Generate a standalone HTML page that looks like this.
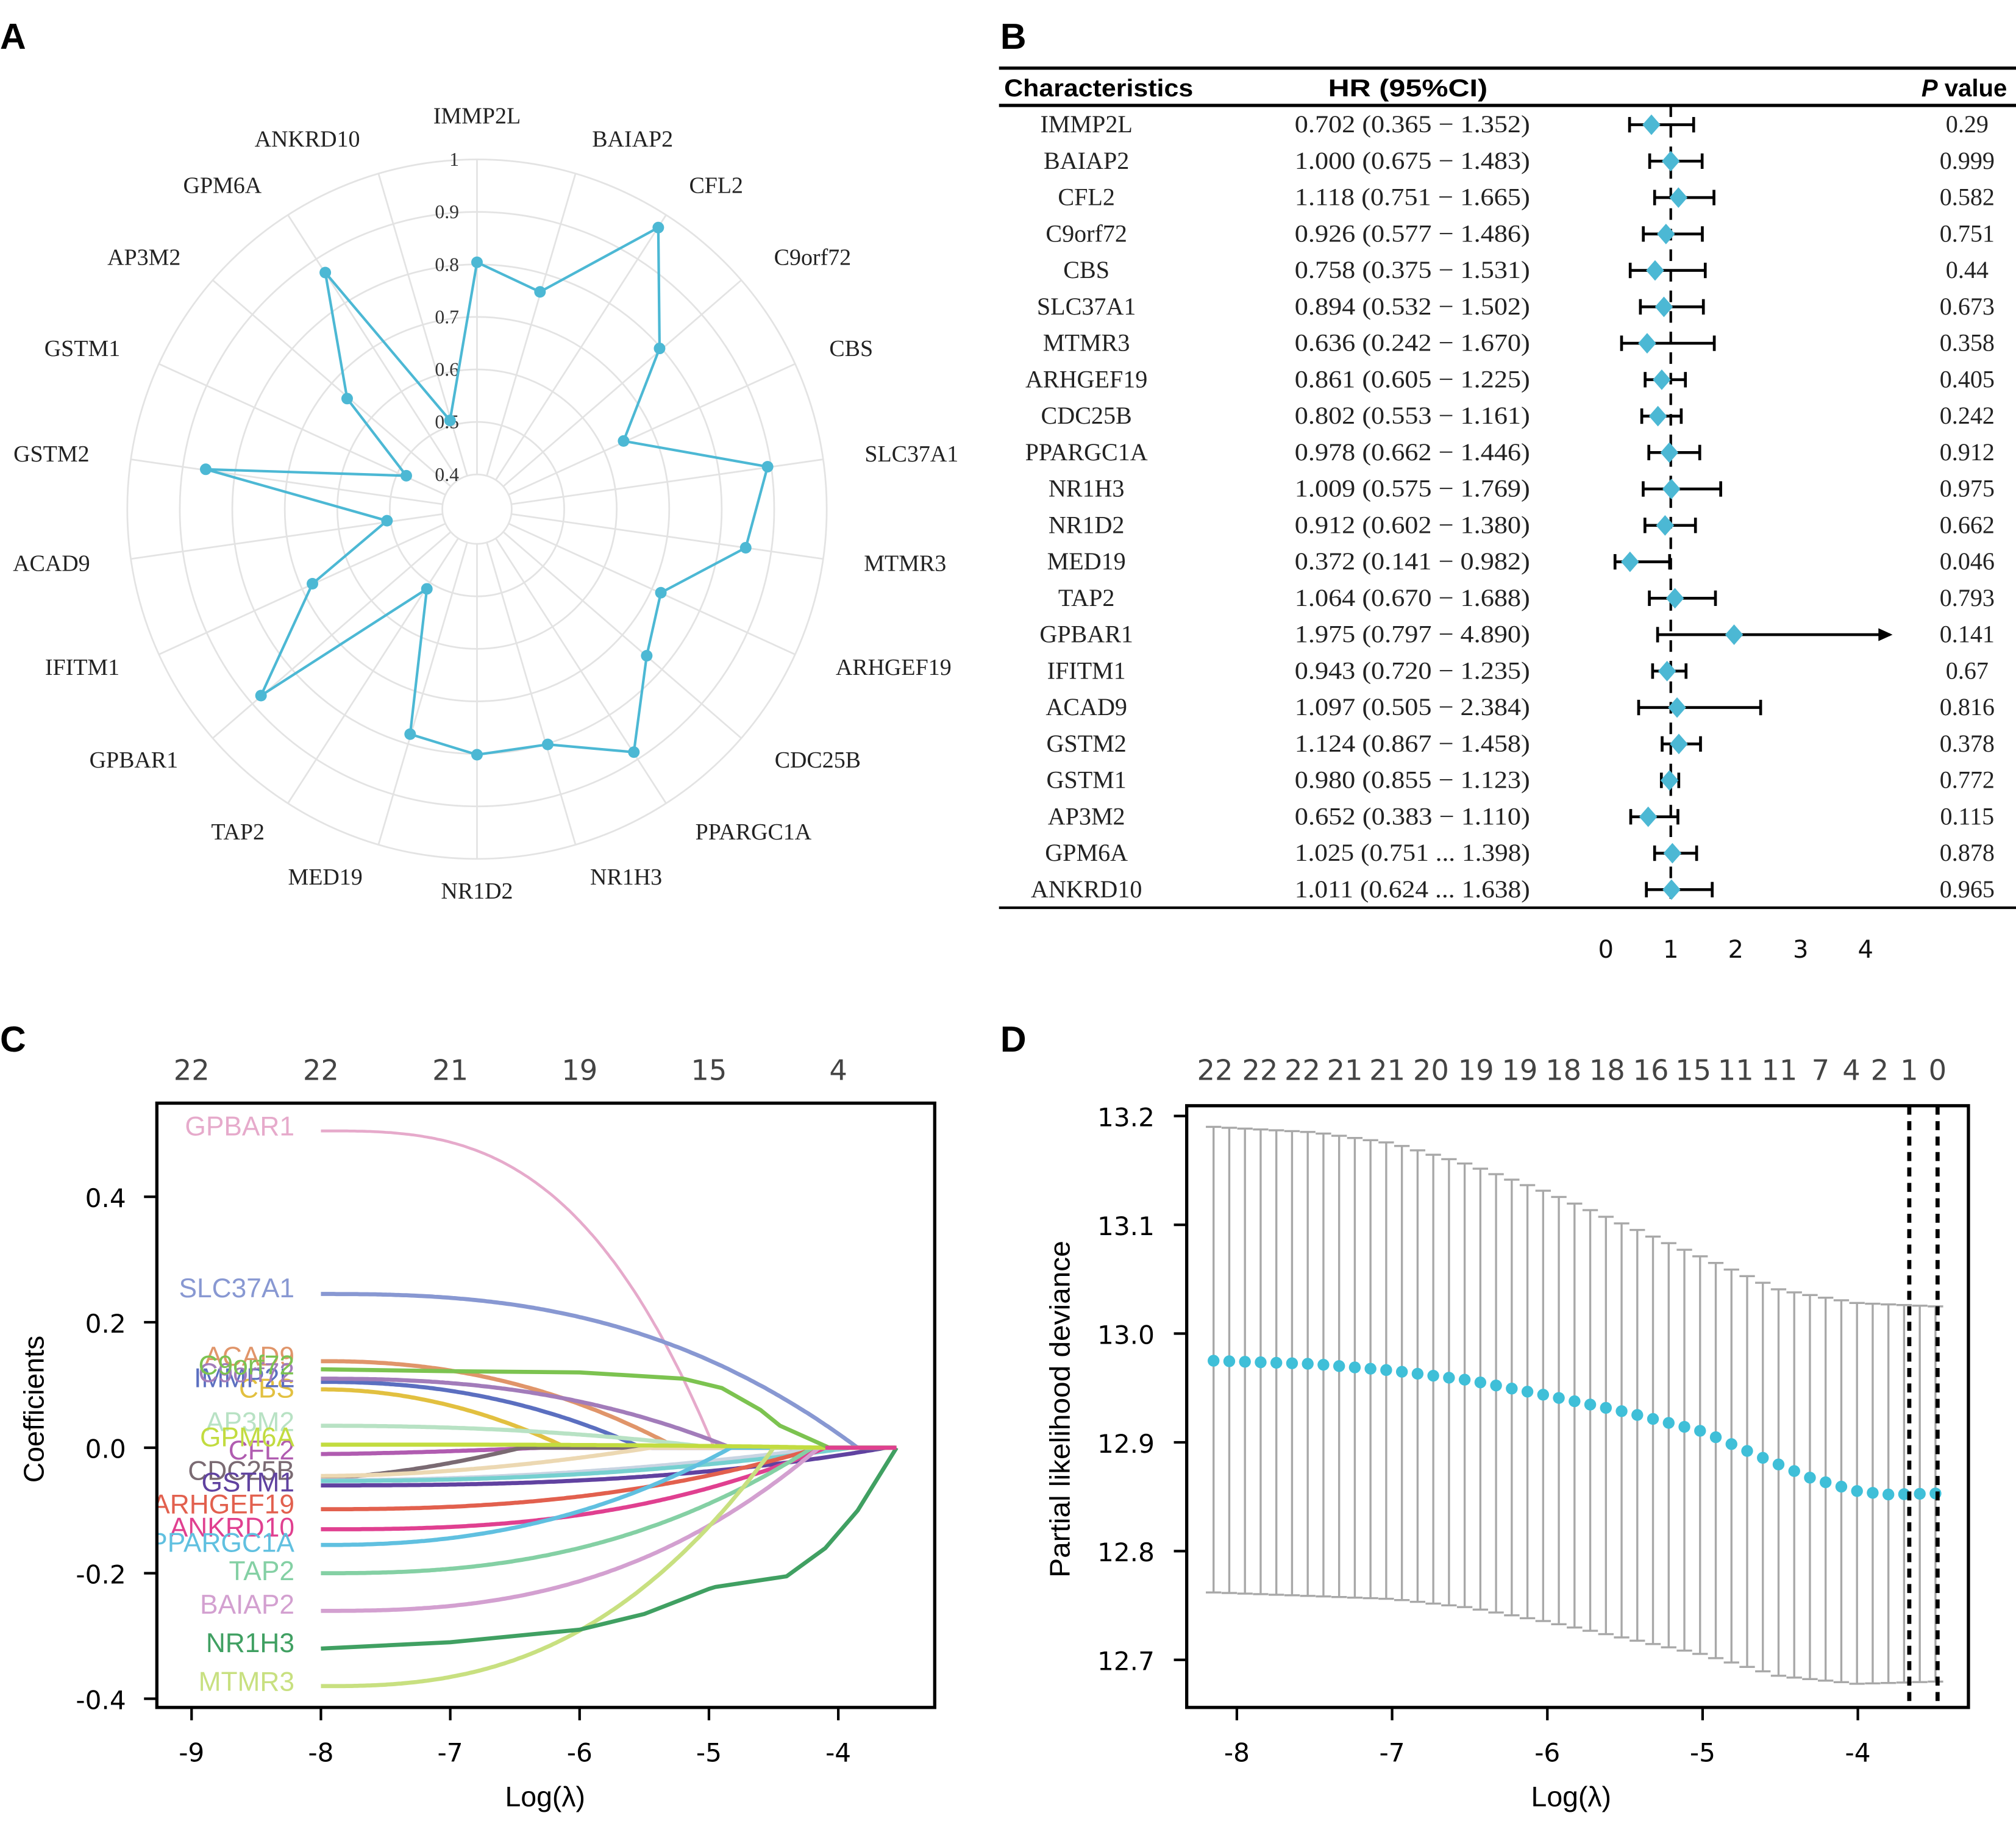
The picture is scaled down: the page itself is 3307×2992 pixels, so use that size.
<!DOCTYPE html>
<html><head><meta charset="utf-8"><style>
html,body{margin:0;padding:0;background:#fff}
svg{display:block}
</style></head><body>
<svg id="s" xmlns="http://www.w3.org/2000/svg" width="3307" height="2992" viewBox="0 0 1568 1418.65">
<rect width="1568" height="1419" fill="#fff"/>
<g font-family="Liberation Sans, sans-serif" font-weight="bold" font-size="28">
<text x="0" y="38">A</text><text x="778" y="38">B</text><text x="0" y="818">C</text><text x="778" y="818">D</text>
</g>
<g id="A"></g><g id="B"></g><g id="C"></g><g id="D"></g>
</svg>
<script>
const NS="http://www.w3.org/2000/svg";
function el(p,t,a,txt){const e=document.createElementNS(NS,t);for(const k in a)e.setAttribute(k,a[k]);if(txt!==undefined)e.textContent=txt;p.appendChild(e);return e;}
(function(){
const g=document.getElementById('A');const cx=371,cy=396;
const R=v=>27+(v-0.4)/0.6*245;
for(let i=0;i<7;i++)el(g,'circle',{cx,cy,r:R(0.4+i*0.1),fill:'none',stroke:'#e3e3e3','stroke-width':1.3});
const names=["IMMP2L","BAIAP2","CFL2","C9orf72","CBS","SLC37A1","MTMR3","ARHGEF19","CDC25B","PPARGC1A","NR1H3","NR1D2","MED19","TAP2","GPBAR1","IFITM1","ACAD9","GSTM2","GSTM1","AP3M2","GPM6A","ANKRD10"];
const pts=[[371,204],[420,227],[512,177],[513,271],[485,343],[597,363],[580,426],[514,461],[503,510],[493,585],[426,579],[371,587],[319,571],[332,458],[203,541],[243,454],[301,405],[160,365],[316,370],[270,310],[253,212],[350,327]];
const lp=[[371,90],[492,108],[557,144],[632,200],[662,271],[709,353],[704,438],[695,519],[636,591],[586,647],[487,682],[371,693],[253,682],[185,647],[104,591],[64,519],[40,438],[40,353],[64,271],[112,200],[173,144],[239,108]];
names.forEach((n,i)=>{const a=i*2*Math.PI/22;const sx=Math.sin(a),sy=-Math.cos(a);
el(g,'line',{x1:cx+sx*R(0.4),y1:cy+sy*R(0.4),x2:cx+sx*R(1),y2:cy+sy*R(1),stroke:'#e3e3e3','stroke-width':1.3});
el(g,'text',{x:lp[i][0],y:lp[i][1]+6,'text-anchor':'middle','font-family':'Liberation Serif, serif','font-size':18,fill:'#222'},n);});
["0.4","0.5","0.6","0.7","0.8","0.9","1"].forEach((t,i)=>{el(g,'text',{x:357,y:cy-R(0.4+i*0.1)+5,'text-anchor':'end','font-family':'Liberation Serif, serif','font-size':15,fill:'#333'},t);});
el(g,'polygon',{points:pts.map(p=>p.join(',')).join(' '),fill:'none',stroke:'#4cb8d4','stroke-width':2});
pts.forEach(p=>el(g,'circle',{cx:p[0],cy:p[1],r:4.5,fill:'#4cb8d4'}));
})();
(function(){
const g=document.getElementById('B');
el(g,'line',{x1:777,y1:53,x2:1568,y2:53,stroke:'#000','stroke-width':2.5});
el(g,'line',{x1:777,y1:82,x2:1568,y2:82,stroke:'#000','stroke-width':2.5});
el(g,'line',{x1:777,y1:706,x2:1568,y2:706,stroke:'#000','stroke-width':2});
const hf={'font-family':'Liberation Sans, sans-serif','font-weight':'bold','font-size':19,fill:'#000'};
el(g,'text',Object.assign({x:781,y:75,textLength:147,lengthAdjust:'spacingAndGlyphs'},hf),'Characteristics');
el(g,'text',Object.assign({x:1033,y:75,textLength:124,lengthAdjust:'spacingAndGlyphs'},hf),'HR (95%CI)');
const pv=el(g,'text',Object.assign({x:1561,y:75,'text-anchor':'end'},hf));
el(pv,'tspan',{'font-style':'italic'},'P');el(pv,'tspan',{},' value');
const rows=[["IMMP2L","0.702 (0.365 − 1.352)","0.29",0.702,0.365,1.352],
["BAIAP2","1.000 (0.675 − 1.483)","0.999",1,0.675,1.483],
["CFL2","1.118 (0.751 − 1.665)","0.582",1.118,0.751,1.665],
["C9orf72","0.926 (0.577 − 1.486)","0.751",0.926,0.577,1.486],
["CBS","0.758 (0.375 − 1.531)","0.44",0.758,0.375,1.531],
["SLC37A1","0.894 (0.532 − 1.502)","0.673",0.894,0.532,1.502],
["MTMR3","0.636 (0.242 − 1.670)","0.358",0.636,0.242,1.67],
["ARHGEF19","0.861 (0.605 − 1.225)","0.405",0.861,0.605,1.225],
["CDC25B","0.802 (0.553 − 1.161)","0.242",0.802,0.553,1.161],
["PPARGC1A","0.978 (0.662 − 1.446)","0.912",0.978,0.662,1.446],
["NR1H3","1.009 (0.575 − 1.769)","0.975",1.009,0.575,1.769],
["NR1D2","0.912 (0.602 − 1.380)","0.662",0.912,0.602,1.38],
["MED19","0.372 (0.141 − 0.982)","0.046",0.372,0.141,0.982],
["TAP2","1.064 (0.670 − 1.688)","0.793",1.064,0.67,1.688],
["GPBAR1","1.975 (0.797 − 4.890)","0.141",1.975,0.797,4.89],
["IFITM1","0.943 (0.720 − 1.235)","0.67",0.943,0.72,1.235],
["ACAD9","1.097 (0.505 − 2.384)","0.816",1.097,0.505,2.384],
["GSTM2","1.124 (0.867 − 1.458)","0.378",1.124,0.867,1.458],
["GSTM1","0.980 (0.855 − 1.123)","0.772",0.98,0.855,1.123],
["AP3M2","0.652 (0.383 − 1.110)","0.115",0.652,0.383,1.11],
["GPM6A","1.025 (0.751 ... 1.398)","0.878",1.025,0.751,1.398],
["ANKRD10","1.011 (0.624 ... 1.638)","0.965",1.011,0.624,1.638]];
const X=v=>1249+v*50.5;
el(g,'line',{x1:X(1),y1:82,x2:X(1),y2:706,stroke:'#000','stroke-width':2,'stroke-dasharray':'9,7'});
const tf={'font-family':'Liberation Serif, serif','font-size':19,fill:'#222'};
rows.forEach((r,i)=>{const y=97+i*28.33;
el(g,'text',Object.assign({x:845,y:y+6,'text-anchor':'middle'},tf),r[0]);
el(g,'text',Object.assign({x:1007,y:y+6,textLength:183,lengthAdjust:'spacingAndGlyphs'},tf),r[1]);
el(g,'text',Object.assign({x:1530,y:y+6,'text-anchor':'middle'},tf),r[2]);
const x1=X(r[4]);let x2=X(r[5]);const arrow=x2>1470;if(arrow)x2=1470;
el(g,'line',{x1,y1:y,x2,y2:y,stroke:'#000','stroke-width':2.2});
el(g,'line',{x1,y1:y-6,x2:x1,y2:y+6,stroke:'#000','stroke-width':2.2});
if(arrow)el(g,'polygon',{points:`${x2+2},${y} ${x2-9},${y-5} ${x2-9},${y+5}`,fill:'#000'});
else el(g,'line',{x1:x2,y1:y-6,x2:x2,y2:y+6,stroke:'#000','stroke-width':2.2});
const hx=X(r[3]);el(g,'polygon',{points:`${hx},${y-8} ${hx+7},${y} ${hx},${y+8} ${hx-7},${y}`,fill:'#4cb8d4'});
});
[0,1,2,3,4].forEach(v=>el(g,'text',{x:X(v),y:745,'text-anchor':'middle','font-family':'DejaVu Sans, sans-serif','font-size':19,fill:'#111'},String(v)));
})();
(function(){
const g=document.getElementById('C');
const X=v=>149+(v+9)*100.6, Y=c=>1126-c*488;
const sf={'font-family':'DejaVu Sans, sans-serif'};
const defs=el(g,'defs',{});const cp=el(defs,'clipPath',{id:'cc'});el(cp,'rect',{x:122,y:858,width:605,height:470});
const curves=[
["GPBAR1","#e6aacb",0.505,-4.96,3,876,2.2],
["SLC37A1","#8898d2",0.245,-3.85,2.6,1002,3.2],
["ACAD9","#e0956a",0.138,-5.25,2.2,1055,3.2],
["CBS","#e2c040",0.093,-6.1,2,1080,3.2],
["IMMP2L","#5b6fc0",0.105,-5.52,2.2,1072,3.2],
["C9orf72","#a27cba",0.11,-4.83,2.4,1068,3.2],
["AP3M2","#b8e2c4",0.035,-4.96,2.2,1106,3.2],
["CFL2","#b05cb0",-0.01,-6.3,1.5,1128,3.2],
["CDC25B","#7a6a72",-0.048,-6.45,1.6,1144,3.2],
["","#ecd8b2",-0.045,-5.45,1.8,1146,3.2],
["","#c8d4e2",-0.052,-4.1,2,1148,3.2],
["","#76d0d0",-0.053,-3.9,2.2,1150,3.2],
["GSTM1","#6042a0",-0.06,-3.63,2.6,1153,3.2],
["ARHGEF19","#e2604e",-0.098,-4.15,2.4,1170,3.2],
["ANKRD10","#e04090",-0.13,-4.1,2.6,1188,3.2],
["PPARGC1A","#60c0e0",-0.155,-4.83,2.3,1200,3.2],
["TAP2","#84d0a4",-0.2,-4.2,2.5,1222,3.2],
["BAIAP2","#d3a0d0",-0.26,-4.15,2.6,1248,3.2],
["MTMR3","#c8e080",-0.38,-4.5,2.6,1308,3.2],
["GPM6A","#c2dc40",0.005,-4.07,3,1118,3.2]];
const gl=el(g,'g',{'clip-path':'url(#cc)',fill:'none','stroke-linejoin':'round'});
function path(fn){let d='';for(let x=-8;x<=-3.549;x+=0.02){const c=fn(x);d+=(d?'L':'M')+X(x).toFixed(1)+','+Y(c).toFixed(1);}return d;}
curves.forEach(c=>{const [n,col,c0,xz,p,ly,w]=c;
el(gl,'path',{d:path(x=>{const t=(x+8)/(xz+8);return t>=1?0:c0*(1-Math.pow(t,p));}),stroke:col,'stroke-width':w});});
const ptsG=[[-8,0.125],[-7,0.122],[-6,0.12],[-5.2,0.11],[-4.9,0.095],[-4.6,0.06],[-4.45,0.035],[-4.07,0],[-3.55,0]];
const ptsN=[[-8,-0.32],[-7,-0.31],[-6,-0.29],[-5.5,-0.265],[-5,-0.225],[-4.95,-0.222],[-4.4,-0.205],[-4.1,-0.16],[-3.85,-0.1],[-3.55,0]];
function pl(pts){let d='';pts.forEach((p,i)=>{d+=(i?'L':'M')+X(p[0]).toFixed(1)+','+Y(p[1]).toFixed(1);});return d;}
el(gl,'path',{d:pl(ptsG),stroke:'#7cc350','stroke-width':3.2});
el(gl,'path',{d:pl(ptsN),stroke:'#40a062','stroke-width':3.2});
el(gl,'line',{x1:X(-4.1),y1:Y(0),x2:X(-3.55),y2:Y(0),stroke:'#e04090','stroke-width':3.2});
const lg=el(g,'g',{'clip-path':'url(#cc)','font-family':'Liberation Sans, sans-serif','font-size':21,'text-anchor':'end'});
curves.forEach(c=>{if(c[0])el(lg,'text',{x:229,y:c[5]+7,fill:c[1]},c[0]);});
el(lg,'text',{x:229,y:1069,fill:'#7cc350'},'C9orf72');
el(lg,'text',{x:229,y:1285,fill:'#40a062'},'NR1H3');
el(g,'rect',{x:122,y:858,width:605,height:470,fill:'none',stroke:'#000','stroke-width':2.5});
[-9,-8,-7,-6,-5,-4].forEach((v,i)=>{el(g,'line',{x1:X(v),y1:1328,x2:X(v),y2:1338,stroke:'#000','stroke-width':2});
el(g,'text',Object.assign({x:X(v),y:1370,'text-anchor':'middle','font-size':20},sf),String(v));
el(g,'text',Object.assign({x:X(v),y:840,'text-anchor':'middle','font-size':22,fill:'#444'},sf),["22","22","21","19","15","4"][i]);});
[[0.4,"0.4"],[0.2,"0.2"],[0,"0.0"],[-0.2,"-0.2"],[-0.4,"-0.4"]].forEach(t=>{el(g,'line',{x1:112,y1:Y(t[0]),x2:122,y2:Y(t[0]),stroke:'#000','stroke-width':2});
el(g,'text',Object.assign({x:98,y:Y(t[0])+8,'text-anchor':'end','font-size':20},sf),t[1]);});
el(g,'text',{x:424,y:1405,'text-anchor':'middle','font-size':22,'font-family':'Liberation Sans, sans-serif'},'Log(λ)');
el(g,'text',{x:34,y:1096,'text-anchor':'middle','font-size':22,'font-family':'Liberation Sans, sans-serif',transform:'rotate(-90 34 1096)'},'Coefficients');
})();
(function(){
const g=document.getElementById('D');
const X=v=>962+(v+8)*120.75, Y=v=>868+(13.2-v)*846;
const sf={'font-family':'DejaVu Sans, sans-serif'};
function interp(pts,x){for(let i=0;i<pts.length-1;i++){if(x<=pts[i+1][0]){const t=(x-pts[i][0])/(pts[i+1][0]-pts[i][0]);return pts[i][1]+(pts[i+1][1]-pts[i][1])*t;}}return pts[pts.length-1][1];}
const mean=[[-8.15,12.975],[-7.5,12.972],[-7,12.966],[-6.5,12.957],[-6,12.943],[-5.5,12.928],[-5,12.91],[-4.6,12.885],[-4.3,12.867],[-4,12.855],[-3.8,12.852],[-3.5,12.853]];
const up=[[-8.15,13.19],[-7.5,13.185],[-7,13.175],[-6.5,13.155],[-6,13.13],[-5.5,13.1],[-5,13.07],[-4.5,13.04],[-4,13.028],[-3.5,13.025]];
const lo=[[-8.15,12.762],[-7,12.756],[-6.5,12.748],[-6,12.735],[-5.5,12.72],[-5,12.705],[-4.5,12.685],[-4,12.678],[-3.5,12.68]];
const n=47;for(let i=0;i<n;i++){const x=-8.15+i*(4.65/(n-1));const px=X(x);
const u=Y(interp(up,x)),l=Y(interp(lo,x));
el(g,'line',{x1:px,y1:u,x2:px,y2:l,stroke:'#a8a8a8','stroke-width':1.6});
el(g,'line',{x1:px-6,y1:u,x2:px+6,y2:u,stroke:'#a8a8a8','stroke-width':1.6});
el(g,'line',{x1:px-6,y1:l,x2:px+6,y2:l,stroke:'#a8a8a8','stroke-width':1.6});}
for(let i=0;i<n;i++){const x=-8.15+i*(4.65/(n-1));el(g,'circle',{cx:X(x),cy:Y(interp(mean,x)),r:4.6,fill:'#3fbfd8'});}
el(g,'line',{x1:1485,y1:860,x2:1485,y2:1328,stroke:'#000','stroke-width':3.2,'stroke-dasharray':'7,5'});
el(g,'line',{x1:1507,y1:860,x2:1507,y2:1328,stroke:'#000','stroke-width':3.2,'stroke-dasharray':'7,5'});
el(g,'rect',{x:923,y:860,width:608,height:468,fill:'none',stroke:'#000','stroke-width':2.5});
[13.2,13.1,13.0,12.9,12.8,12.7].forEach(v=>{el(g,'line',{x1:913,y1:Y(v),x2:923,y2:Y(v),stroke:'#000','stroke-width':2});
el(g,'text',Object.assign({x:898,y:Y(v)+8,'text-anchor':'end','font-size':20},sf),v.toFixed(1));});
[-8,-7,-6,-5,-4].forEach(v=>{el(g,'line',{x1:X(v),y1:1328,x2:X(v),y2:1338,stroke:'#000','stroke-width':2});
el(g,'text',Object.assign({x:X(v),y:1370,'text-anchor':'middle','font-size':20},sf),String(v));});
const tl=["22","22","22","21","21","20","19","19","18","18","16","15","11","11","7","4","2","1","0"];
const tx=[945,980,1013,1046,1079,1113,1148,1182,1216,1250,1284,1317,1350,1384,1416,1440,1462,1485,1507];
tl.forEach((t,i)=>el(g,'text',Object.assign({x:tx[i],y:840,'text-anchor':'middle','font-size':22,fill:'#444'},sf),t));
el(g,'text',{x:1222,y:1405,'text-anchor':'middle','font-size':22,'font-family':'Liberation Sans, sans-serif'},'Log(λ)');
el(g,'text',{x:832,y:1096,'text-anchor':'middle','font-size':22,'font-family':'Liberation Sans, sans-serif',textLength:262,lengthAdjust:'spacingAndGlyphs',transform:'rotate(-90 832 1096)'},'Partial likelihood deviance');
})();
</script>
</body></html>
